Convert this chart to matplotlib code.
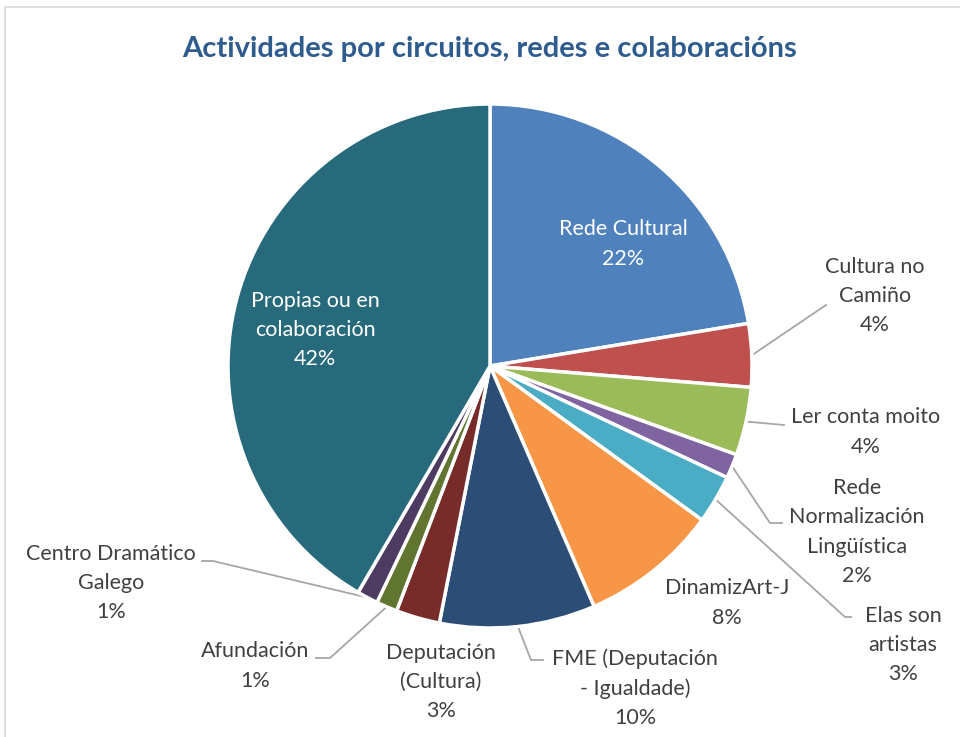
import numpy as np
import matplotlib
matplotlib.use('Agg')
from matplotlib import pyplot as plt
from matplotlib.patches import Rectangle

plt.rcParams['font.family'] = ['Lato', 'DejaVu Sans']

# Data (share of activities)
labels = ['Rede Cultural', 'Cultura no\nCamiño', 'Ler conta moito', 'Rede\nNormalización\nLingüística',
          'Elas son\nartistas', 'DinamizArt-J', 'FME (Deputación\n- Igualdade)', 'Deputación\n(Cultura)',
          'Afundación', 'Centro Dramático\nGalego', 'Propias ou en\ncolaboración']
values = [22.4, 3.9, 4.2, 1.5, 3.0, 8.5, 9.6, 2.7, 1.3, 1.3, 41.6]
pct_text = ['22%', '4%', '4%', '2%', '3%', '8%', '10%', '3%', '1%', '1%', '42%']
colors = ['#4F81BD', '#C0504D', '#9BBB59', '#8064A2', '#4BACC6', '#F79646',
          '#2C4D75', '#772C2A', '#5F7530', '#4D3B62', '#276A7C']

W, H = 960, 737
CX, CY, R = 490, 366, 262

def to_data(px, py):
    return (px - CX) / R, (CY - py) / R

fig = plt.figure(figsize=(9.6, 7.37), dpi=100)
fig.patches.append(Rectangle((5 / W, -0.1), 1.2, 1 - 7 / H + 0.1, transform=fig.transFigure,
                             fill=False, edgecolor='#D9D9D9', linewidth=1.2))

ax = fig.add_axes([(CX - R) / W, (H - CY - R) / H, 2 * R / W, 2 * R / H])
wedges, _ = ax.pie(values, colors=colors, startangle=90, counterclock=False, radius=1,
                   wedgeprops=dict(edgecolor='white', linewidth=2.5))
ax.set_xlim(-1, 1)
ax.set_ylim(-1, 1)
ax.set_aspect('auto')
ax.axis('off')

# label placement (pixel centres of each label block) and leader line elbows
label_pos = [(623, 244), (875, 296), (866, 432), (857, 532), (903, 645), (727, 603),
             (635, 688), (441, 682), (255, 666), (111, 583), (315, 330)]
leaders = {1: [(826, 305)],
           2: [(784, 425)],
           3: [(770, 523), (782, 523)],
           4: [(845, 617), (851, 617)],
           6: [(531, 660), (543, 660)],
           8: [(330, 658), (316, 658)],
           9: [(213, 561), (202, 561)]}

for i, (lab, pct) in enumerate(zip(labels, pct_text)):
    x, y = to_data(*label_pos[i])
    inside = i in (0, 10)
    ax.text(x, y, lab + '\n' + pct, ha='center', va='center', fontsize=15.5,
            color='white' if inside else '#404040', linespacing=1.58, clip_on=False)
    if i in leaders:
        w = wedges[i]
        mid = np.deg2rad((w.theta1 + w.theta2) / 2)
        pts = [(np.cos(mid), np.sin(mid))] + [to_data(*p) for p in leaders[i]]
        xs, ys = zip(*pts)
        ax.plot(xs, ys, color='#A6A6A6', linewidth=1.3, clip_on=False, zorder=0)

fig.text(490 / W, 1 - 49 / H, 'Actividades por circuitos, redes e colaboracións', ha='center', va='center',
         fontsize=21, fontweight='bold', color='#2F5C8F')

plt.savefig('out.png', dpi=100)
